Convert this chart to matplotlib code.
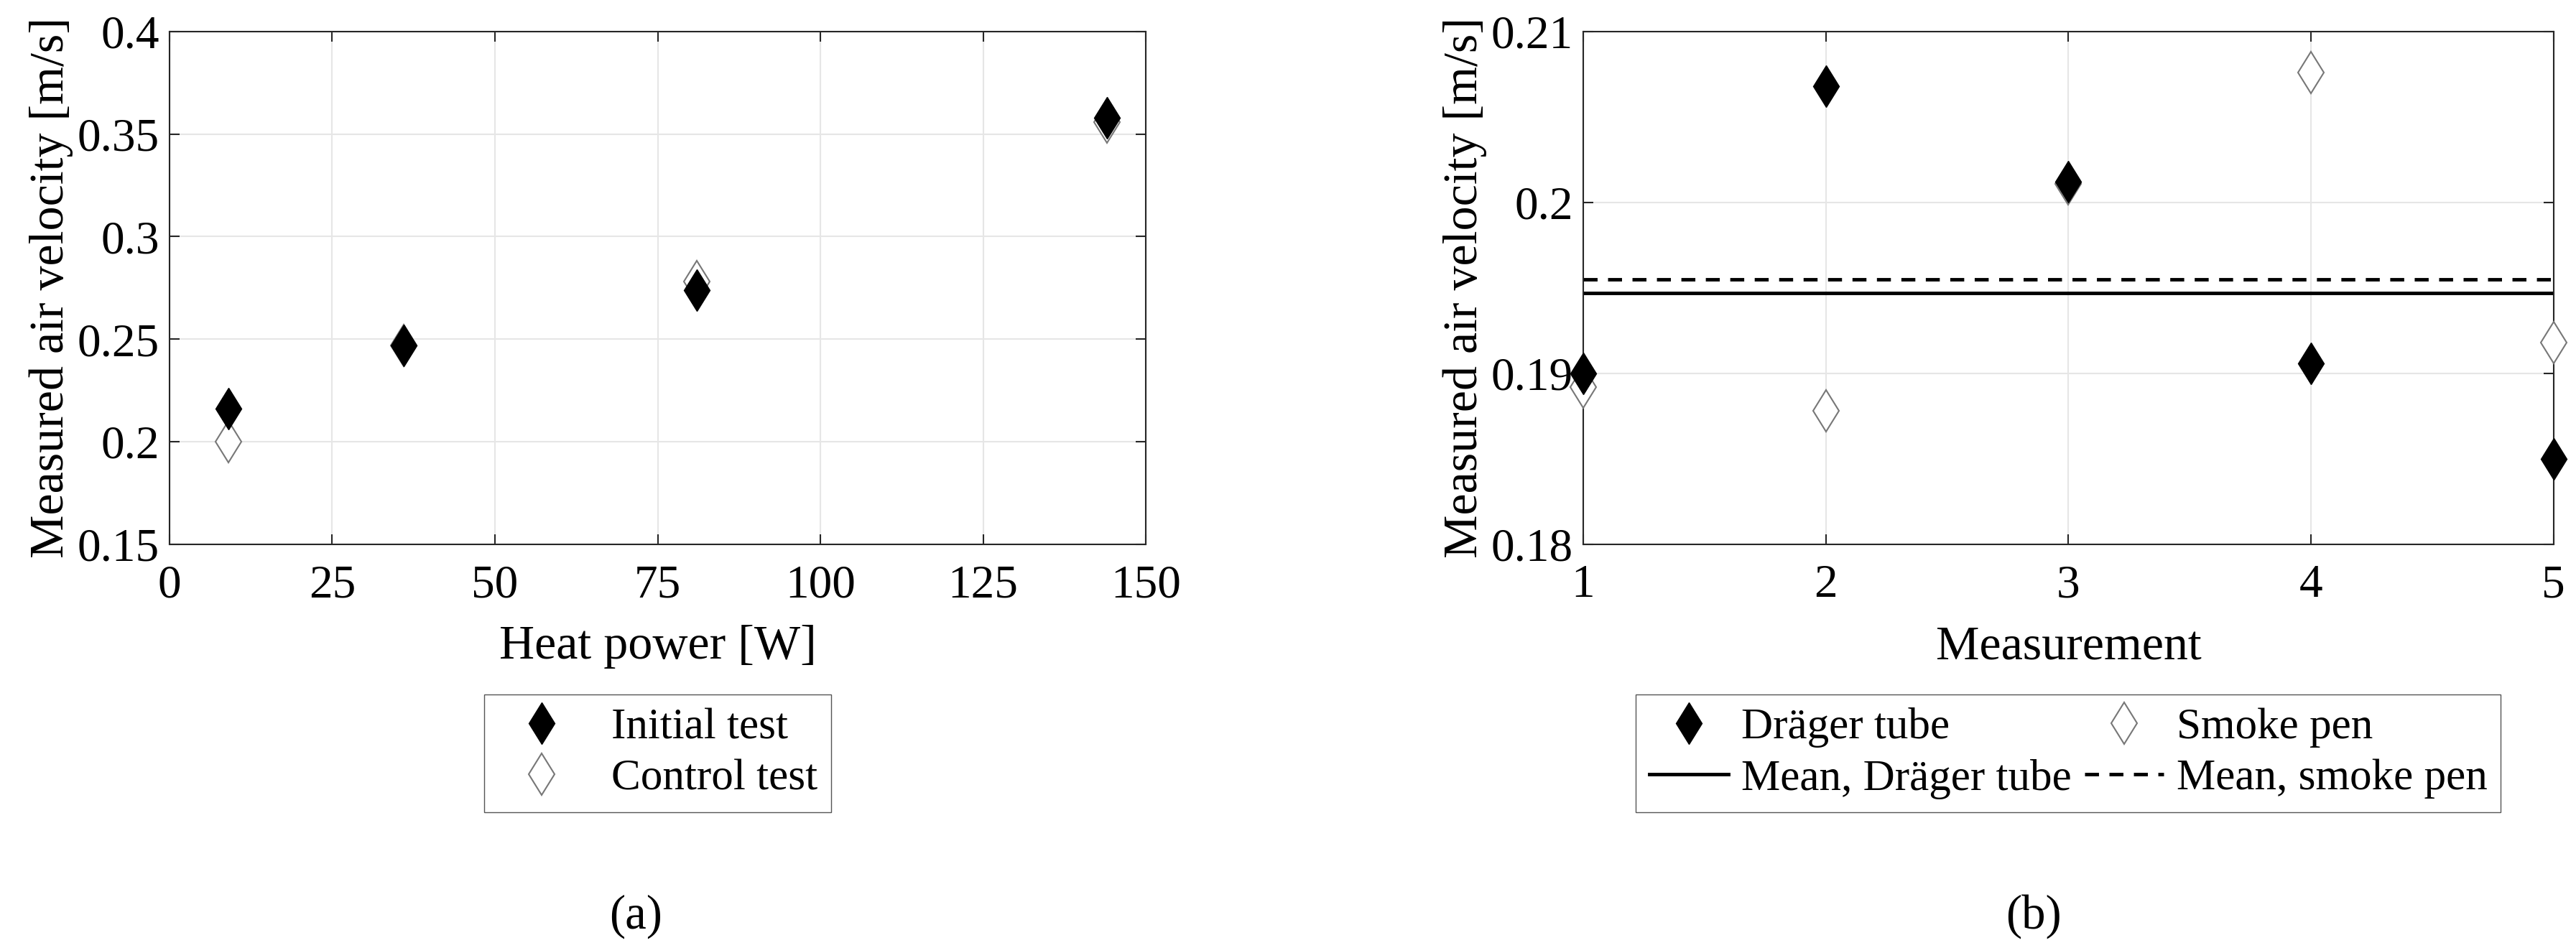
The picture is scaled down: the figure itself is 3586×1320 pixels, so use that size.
import matplotlib.pyplot as plt
import numpy as np

plt.rcParams['font.family'] = ['Liberation Serif', 'DejaVu Serif']
plt.rcParams['mathtext.fontset'] = 'stix'

# (a) data
heat_power = [9, 36, 81, 144]
initial_test = [0.216, 0.247, 0.274, 0.358]
control_test = [0.200, 0.247, 0.278, 0.356]

# (b) data
measurement = [1, 2, 3, 4, 5]
drager_tube = [0.1900, 0.2068, 0.2012, 0.1906, 0.1850]
smoke_pen = [0.1892, 0.1878, 0.2011, 0.2076, 0.1918]

fig = plt.figure(figsize=(35.86, 13.2), dpi=100)
ax1 = fig.add_axes([0.0658, 0.4258, 0.379, 0.541])
ax2 = fig.add_axes([0.6146, 0.4258, 0.3767, 0.541])

fs = 44
tfs = 47
lfs = 49
ms = 30

def style(ax):
    ax.grid(True, color='#e6e6e6', linewidth=1.5)
    ax.set_axisbelow(True)
    ax.tick_params(direction='in', labelsize=tfs, length=10, width=1.5, pad=20,
                   top=True, right=True, colors='#262626', labelcolor='black')
    ax.tick_params(axis='y', pad=10)
    for s in ax.spines.values():
        s.set_color('#262626')
        s.set_linewidth(1.5)

ax1.plot(heat_power, control_test, 'd', ms=ms, mfc='white', mec='#777777', mew=1.5,
         label='Control test', zorder=3)
ax1.plot(heat_power, initial_test, 'd', ms=ms, mfc='black', mec='black',
         label='Initial test', zorder=4)
ax1.set_xlim(0, 150)
ax1.set_ylim(0.15, 0.4)
ax1.set_xticks([0, 25, 50, 75, 100, 125, 150])
ax1.set_yticks([0.15, 0.2, 0.25, 0.3, 0.35, 0.4])
ax1.set_yticklabels(['0.15', '0.2', '0.25', '0.3', '0.35', '0.4'])
ax1.set_xlabel('Heat power [W]', fontsize=lfs, labelpad=18)
ax1.set_ylabel('Measured air velocity [m/s]', fontsize=lfs, labelpad=4)
style(ax1)
h, l = ax1.get_legend_handles_labels()
ax1.legend(h[::-1], l[::-1], loc='upper center', bbox_to_anchor=(0.5, -0.25),
           fontsize=fs, fancybox=False, edgecolor='#555555', framealpha=1,
           handletextpad=0.6, borderpad=0.3, labelspacing=0.25)

ax2.plot(measurement, drager_tube, 'd', ms=ms, mfc='black', mec='black',
         label='Dräger tube', zorder=4, clip_on=False)
ax2.plot(measurement, smoke_pen, 'd', ms=ms, mfc='white', mec='#777777', mew=1.5,
         label='Smoke pen', zorder=3, clip_on=False)
ax2.axhline(np.mean(drager_tube), color='black', lw=3.5, label='Mean, Dräger tube')
ax2.axhline(np.mean(smoke_pen), color='black', lw=3.5, ls=(0, (4, 3)),
            label='Mean, smoke pen')
ax2.set_xlim(1, 5)
ax2.set_ylim(0.18, 0.21)
ax2.set_xticks(measurement)
ax2.set_yticks([0.18, 0.19, 0.2, 0.21])
ax2.set_yticklabels(['0.18', '0.19', '0.2', '0.21'])
ax2.set_xlabel('Measurement', fontsize=lfs, labelpad=18)
ax2.set_ylabel('Measured air velocity [m/s]', fontsize=lfs, labelpad=4)
style(ax2)
h, l = ax2.get_legend_handles_labels()
order = [0, 2, 1, 3]
ax2.legend([h[i] for i in order], [l[i] for i in order], ncol=2, loc='upper center',
           bbox_to_anchor=(0.5, -0.25), fontsize=fs, fancybox=False,
           edgecolor='#555555', framealpha=1, handlelength=1.8, handletextpad=0.3,
           columnspacing=0.3, borderpad=0.3, labelspacing=0.25)

fig.text(885 / 3586, 1 - 1276 / 1320, '(a)', fontsize=fs + 4, ha='center', va='center')
fig.text(2831 / 3586, 1 - 1276 / 1320, '(b)', fontsize=fs + 4, ha='center', va='center')

fig.savefig('out.png', dpi=100)
